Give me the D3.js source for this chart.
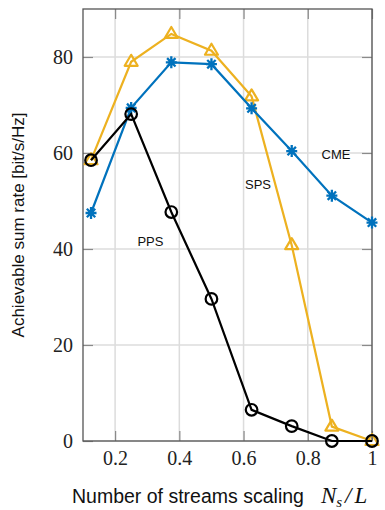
<!DOCTYPE html>
<html>
<head>
<meta charset="utf-8">
<script src="https://cdn.jsdelivr.net/npm/d3@7"></script>
<style>
  body { margin: 0; background: #fff; }
  svg { display: block; }
  .tick text { font-family: 'Liberation Serif', serif; font-size: 20px; }
</style>
</head>
<body>
<div class="vis"></div>
<script>
// data
const xs = [0.125, 0.25, 0.375, 0.5, 0.625, 0.75, 0.875, 1];
const cme = [47.5, 69.4, 78.9, 78.5, 69.3, 60.4, 51.1, 45.5];
const sps = [58.5, 79.0, 84.8, 81.3, 71.8, 40.8, 3.0, 0];
const pps = [58.5, 68.1, 47.7, 29.6, 6.5, 3.1, 0, 0];
const xTicks = [0.2, 0.4, 0.6, 0.8, 1];
const yTicks = [0, 20, 40, 60, 80];

const W = 385, H = 510;
const margin = { top: 9, right: 13, bottom: 69, left: 83 };
const width = W - margin.left - margin.right;
const height = H - margin.top - margin.bottom;

const svg = d3.select(".vis").append("svg")
  .attr("width", W).attr("height", H);
const g = svg.append("g")
  .attr("transform", "translate(" + margin.left + "," + margin.top + ")");

const x = d3.scaleLinear().domain([0.1, 1]).range([0, width]);
const y = d3.scaleLinear().domain([0, 90]).range([height, 0]);

// grid
g.selectAll(".gx").data(xTicks).enter().append("line")
  .attr("x1", d => x(d)).attr("x2", d => x(d))
  .attr("y1", 0).attr("y2", height)
  .attr("stroke", "#dcdcdc").attr("stroke-width", 1.5);
g.selectAll(".gy").data(yTicks).enter().append("line")
  .attr("x1", 0).attr("x2", width)
  .attr("y1", d => y(d)).attr("y2", d => y(d))
  .attr("stroke", "#dcdcdc").attr("stroke-width", 1.5);

// axes (ticks inside, box)
const tk = 10;
function axisStyle(sel) {
  sel.attr("font-family", "'Liberation Serif', serif").attr("font-size", 20);
  sel.select(".domain").remove();
  sel.selectAll(".tick line").attr("stroke", "#8a8a8a").attr("stroke-width", 1.2);
  sel.selectAll(".tick text").attr("fill", "#222");
}
const xAxis = g.append("g").attr("transform", "translate(0," + height + ")");
xAxis.call(d3.axisBottom(x).tickValues(xTicks).tickSize(-tk).tickPadding(10)
  .tickFormat(d => d === 1 ? "1" : d3.format(".1f")(d)));
axisStyle(xAxis);
const xTop = g.append("g");
xTop.call(d3.axisTop(x).tickValues(xTicks).tickSize(-tk).tickFormat(""));
axisStyle(xTop);
const yAxis = g.append("g");
yAxis.call(d3.axisLeft(y).tickValues(yTicks).tickSize(-tk).tickPadding(10));
axisStyle(yAxis);
const yRight = g.append("g").attr("transform", "translate(" + width + ",0)");
yRight.call(d3.axisRight(y).tickValues(yTicks).tickSize(-tk).tickFormat(""));
axisStyle(yRight);

g.append("rect").attr("width", width).attr("height", height)
  .attr("fill", "none").attr("stroke", "#555").attr("stroke-width", 1.3);

const line = d3.line().x((d, i) => x(xs[i])).y(d => y(d));

const series = [
  { vals: sps, color: "#EDB120", sym: "tri" },
  { vals: cme, color: "#0072BD", sym: "ast" },
  { vals: pps, color: "#000000", sym: "circ" }
];

series.forEach(s => {
  g.append("path").datum(s.vals)
    .attr("fill", "none").attr("stroke", s.color)
    .attr("stroke-width", 2.2).attr("d", line);
  const m = g.selectAll(null).data(s.vals).enter().append("g")
    .attr("transform", (d, i) => "translate(" + x(xs[i]) + "," + y(d) + ")");
  if (s.sym === "circ") {
    m.append("circle").attr("r", 5.8)
      .attr("fill", "none").attr("stroke", s.color).attr("stroke-width", 2.2);
  } else if (s.sym === "tri") {
    m.append("path").attr("d", "M0,-7L6.5,4L-6.5,4Z")
      .attr("fill", "none").attr("stroke", s.color).attr("stroke-width", 2.2)
      .attr("stroke-linejoin", "round");
  } else {
    m.append("path")
      .attr("d", "M-5.5,0H5.5M0,-6V6M-4.2,-4.2L4.2,4.2M-4.2,4.2L4.2,-4.2")
      .attr("stroke", s.color).attr("stroke-width", 2.3);
  }
});

// in-plot labels
const labels = [
  { t: "PPS", x: 0.31, y: 41.5 },
  { t: "SPS", x: 0.645, y: 53.5 },
  { t: "CME", x: 0.888, y: 59.8 }
];
g.selectAll(".lab").data(labels).enter().append("text")
  .attr("x", d => x(d.x)).attr("y", d => y(d.y))
  .attr("dy", "0.35em").attr("text-anchor", "middle")
  .style("font-family", "'Liberation Sans', Arial, sans-serif")
  .style("font-size", "13px").attr("fill", "#111")
  .text(d => d.t);

// axis labels
svg.append("text")
  .attr("transform", "translate(24," + (margin.top + height / 2) + ") rotate(-90)")
  .attr("text-anchor", "middle")
  .style("font-family", "'Liberation Sans', Arial, sans-serif")
  .style("font-size", "17px").attr("fill", "#111")
  .text("Achievable sum rate [bit/s/Hz]");

const xl = svg.append("text")
  .attr("x", 72).attr("y", 503)
  .style("font-family", "'Liberation Sans', Arial, sans-serif")
  .style("font-size", "19.5px").attr("fill", "#111");
xl.append("tspan").text("Number of streams scaling");
xl.append("tspan").style("font-family", "'Liberation Serif', serif").style("font-style", "italic")
  .style("font-size", "23px").attr("dx", 17).text("N");
xl.append("tspan").style("font-family", "'Liberation Serif', serif").style("font-style", "italic")
  .style("font-size", "15px").attr("dy", 3.5).text("s");
xl.append("tspan").style("font-family", "'Liberation Serif', serif").style("font-style", "italic")
  .style("font-size", "23px").style("letter-spacing", "3px").attr("dy", -3.5).attr("dx", 3).text("/L");
</script>
</body>
</html>
